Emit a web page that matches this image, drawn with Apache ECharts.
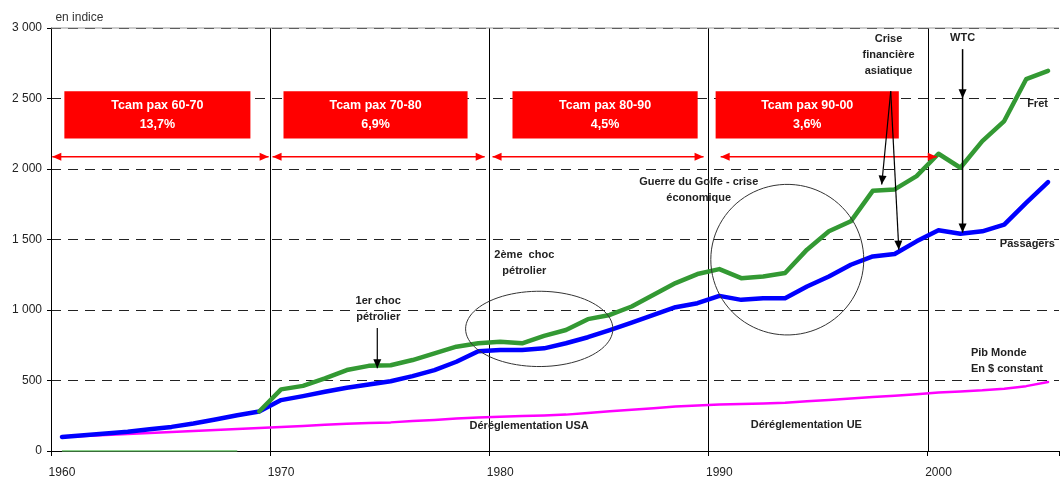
<!DOCTYPE html>
<html>
<head>
<meta charset="utf-8">
<script src="https://cdn.jsdelivr.net/npm/echarts@6/dist/echarts.min.js"></script>
<style>
html,body{margin:0;padding:0;background:#fff;}
#c{width:1061px;height:480px;}
</style>
</head>
<body>
<div id="c"></div>
<script>
// ---- data ----
const years = [];
for (let y = 1960; y <= 2005; y++) years.push(String(y));

const passagers = [100,112,124,136,154,171,195,223,254,280,
  361,389,420,448,472,495,531,574,633,708,
  716,716,728,764,807,858,911,965,1020,1048,
  1100,1072,1084,1084,1167,1238,1321,1380,1397,1487,
  1565,1541,1558,1605,1760,1907];

const fret = [0,0,0,0,0,0,0,0,0,280,
  437,462,515,574,604,608,645,693,740,764,
  775,764,816,858,935,965,1025,1108,1191,1255,
  1290,1226,1238,1262,1428,1558,1629,1845,1855,1949,
  2108,2009,2198,2340,2637,2696];

const pib = [100,107,114,121,128,135,142,149,156,163,
  170,178,186,194,198,203,212,220,230,238,
  243,248,252,258,270,282,293,303,315,323,
  330,333,337,342,352,362,373,383,392,402,
  415,422,430,442,460,490];

const yTicks = [0,500,1000,1500,2000,2500,3000];

const boxTexts = ['Tcam pax 60-70\n13,7%','Tcam pax 70-80\n6,9%','Tcam pax 80-90\n4,5%','Tcam pax 90-00\n3,6%'];

// ---- chart ----
const FONT = '"Liberation Sans", Arial, sans-serif';
const chart = echarts.init(document.getElementById('c'));

function fmt(v){
  if (v >= 1000) return Math.floor(v/1000) + ' ' + String(v % 1000).padStart(3,'0');
  return String(v);
}
const decade = (idx) => idx % 10 === 0 && idx < years.length;

const fretZero = fret.map(v => v === 0 ? v : null);
const fretMain = fret.map(v => v === 0 ? null : v);

chart.setOption({
  animation: false,
  grid: {left: 51, right: 2, top: 28, bottom: 29, containLabel: false},
  xAxis: {
    type: 'category', data: years, boundaryGap: true,
    axisLine: {lineStyle: {color: '#000', width: 1}},
    axisTick: {show: true, interval: decade, length: 5, lineStyle: {color: '#000'}},
    axisLabel: {interval: decade, color: '#222', fontSize: 12, fontFamily: FONT, margin: 16},
    splitLine: {show: false}
  },
  yAxis: {
    type: 'value', min: yTicks[0], max: yTicks[yTicks.length-1], interval: 500,
    axisLine: {show: true, lineStyle: {color: '#000', width: 1}},
    axisTick: {show: true, length: 4, lineStyle: {color: '#000'}},
    axisLabel: {color: '#222', fontSize: 12, fontFamily: FONT, margin: 9, formatter: fmt},
    splitLine: {show: true, lineStyle: {color: '#222', width: 1, type: [10, 7]}}
  },
  series: [
    {name: 'Pib Monde', type: 'line', data: pib, symbol: 'none', z: 3,
     lineStyle: {color: '#ff00ff', width: 2.5, cap: 'round', join: 'round'}},
    {name: 'Passagers', type: 'line', data: passagers, symbol: 'none', z: 4,
     lineStyle: {color: '#0000ff', width: 4.5, cap: 'round', join: 'round'}},
    {name: 'Fret0', type: 'line', data: fretZero, symbol: 'none', z: 5,
     lineStyle: {color: '#66c266', width: 1.5}},
    {name: 'Fret', type: 'line', data: fretMain, symbol: 'none', z: 5,
     lineStyle: {color: '#339933', width: 4.5, cap: 'round', join: 'round'}}
  ]
});

// ---- annotations (positioned in data units) ----
const xa = chart.convertToPixel({xAxisIndex: 0}, years[0]);
const xb = chart.convertToPixel({xAxisIndex: 0}, years[10]);
const ya = chart.convertToPixel({yAxisIndex: 0}, 0);
const yb = chart.convertToPixel({yAxisIndex: 0}, 3000);
const X = i => xa + (xb - xa) * i / 10;
const Y = v => ya + (yb - ya) * v / 3000;

const els = [];
const TXT = '#222';

// decade separators at category boundaries
years.forEach((y, i) => {
  if (i > 0 && i % 10 === 0) {
    const px = Math.round(X(i - 0.5)) + 0.5;
    els.push({type: 'line', z: 1, silent: true, shape: {x1: px, y1: Y(3000), x2: px, y2: Y(0)}, style: {stroke: '#000', lineWidth: 1}});
  }
});

function text(t, i, v, align, opts){
  els.push(Object.assign({type: 'text', z: 100, x: X(i), y: Y(v), style: {
    text: t, fill: TXT, font: 'bold 11px ' + FONT, align: align || 'center',
    verticalAlign: 'middle', lineHeight: 16}}, opts || {}));
}
function head(x1, y1, x2, y2, len, w, color){
  const d = Math.hypot(x2-x1, y2-y1), ux = (x2-x1)/d, uy = (y2-y1)/d;
  const bx = x2 - ux*len, by = y2 - uy*len;
  els.push({type: 'polygon', z: 101, shape: {points: [[x2,y2],[bx - uy*w, by + ux*w],[bx + uy*w, by - ux*w]]},
    style: {fill: color}});
}
function arrow(x1, y1, x2, y2, color, lw, both){
  els.push({type: 'line', z: 100, shape: {x1, y1, x2, y2}, style: {stroke: color, lineWidth: lw}});
  head(x1, y1, x2, y2, 9, 4, color);
  if (both) head(x2, y2, x1, y1, 9, 4, color);
}
function ellipse(ci, cv, ri, rv){
  const cx = X(ci), cy = Y(cv), rx = X(ci+ri) - cx, ry = cy - Y(cv+rv);
  const pts = [];
  for (let k = 0; k < 90; k++){ const t = k/90*Math.PI*2; pts.push([cx + rx*Math.cos(t), cy + ry*Math.sin(t)]); }
  els.push({type: 'polygon', z: 90, shape: {points: pts}, style: {fill: 'none', stroke: '#333', lineWidth: 1}});
}

// top border
els.push({type: 'line', z: 95, shape: {x1: X(-0.5), y1: Y(3000), x2: X(45.5), y2: Y(3000)}, style: {stroke: '#999', lineWidth: 1}});

// red boxes
const boxes = [[0.11, 8.6], [10.11, 18.51], [20.56, 29.01], [29.83, 38.19]];
boxes.forEach((b, k) => {
  els.push({type: 'rect', z: 96, shape: {x: X(b[0]), y: Y(2551), width: X(b[1]) - X(b[0]), height: Y(2217) - Y(2551)},
    style: {fill: '#ff0000'}});
  els.push({type: 'text', z: 97, x: (X(b[0]) + X(b[1]))/2, y: Y(2384), style: {text: boxTexts[k], fill: '#fff',
    font: 'bold 12.5px ' + FONT, align: 'center', verticalAlign: 'middle', lineHeight: 19}});
});
// red double arrows
[[-0.44, 9.43], [9.61, 19.29], [19.65, 29.28], [30.06, 39.92]].forEach(a => {
  arrow(X(a[0]), Y(2087), X(a[1]), Y(2087), '#ff0000', 1.5, true);
});

// text annotations
els.push({type: 'text', z: 100, x: X(-0.3), y: Y(3075), style: {text: 'en indice', fill: '#333', font: '12px ' + FONT, align: 'left', verticalAlign: 'middle'}});
text('1er choc\npétrolier', 14.43, 1009);
arrow(X(14.39), Y(872), X(14.39), Y(587), '#000', 1.2);
text('2ème  choc\npétrolier', 21.1, 1332);
ellipse(21.78, 866, 3.36, 267);
text('Guerre du Golfe - crise\néconomique', 29.06, 1853);
ellipse(33.1, 1357, 3.49, 534);
text('Crise\nfinancière\nasiatique', 37.72, 2808);
arrow(X(37.82), Y(2551), X(37.41), Y(1890), '#000', 1.2);
arrow(X(37.82), Y(2551), X(38.19), Y(1428), '#000', 1.2);
text('WTC', 41.1, 2929);
arrow(X(41.1), Y(2850), X(41.1), Y(1549), '#000', 1.5);
head(X(41.1), Y(2850), X(41.1), Y(2502), 9, 4, '#000');
text('Fret', 44.52, 2460);
text('Passagers', 42.8, 1470, 'left');
text('Pib Monde\nEn $ constant', 41.48, 638, 'left');
text('Déréglementation USA', 18.6, 176, 'left');
text('Déréglementation UE', 31.43, 183, 'left');

chart.setOption({graphic: {elements: els}});
</script>
</body>
</html>
